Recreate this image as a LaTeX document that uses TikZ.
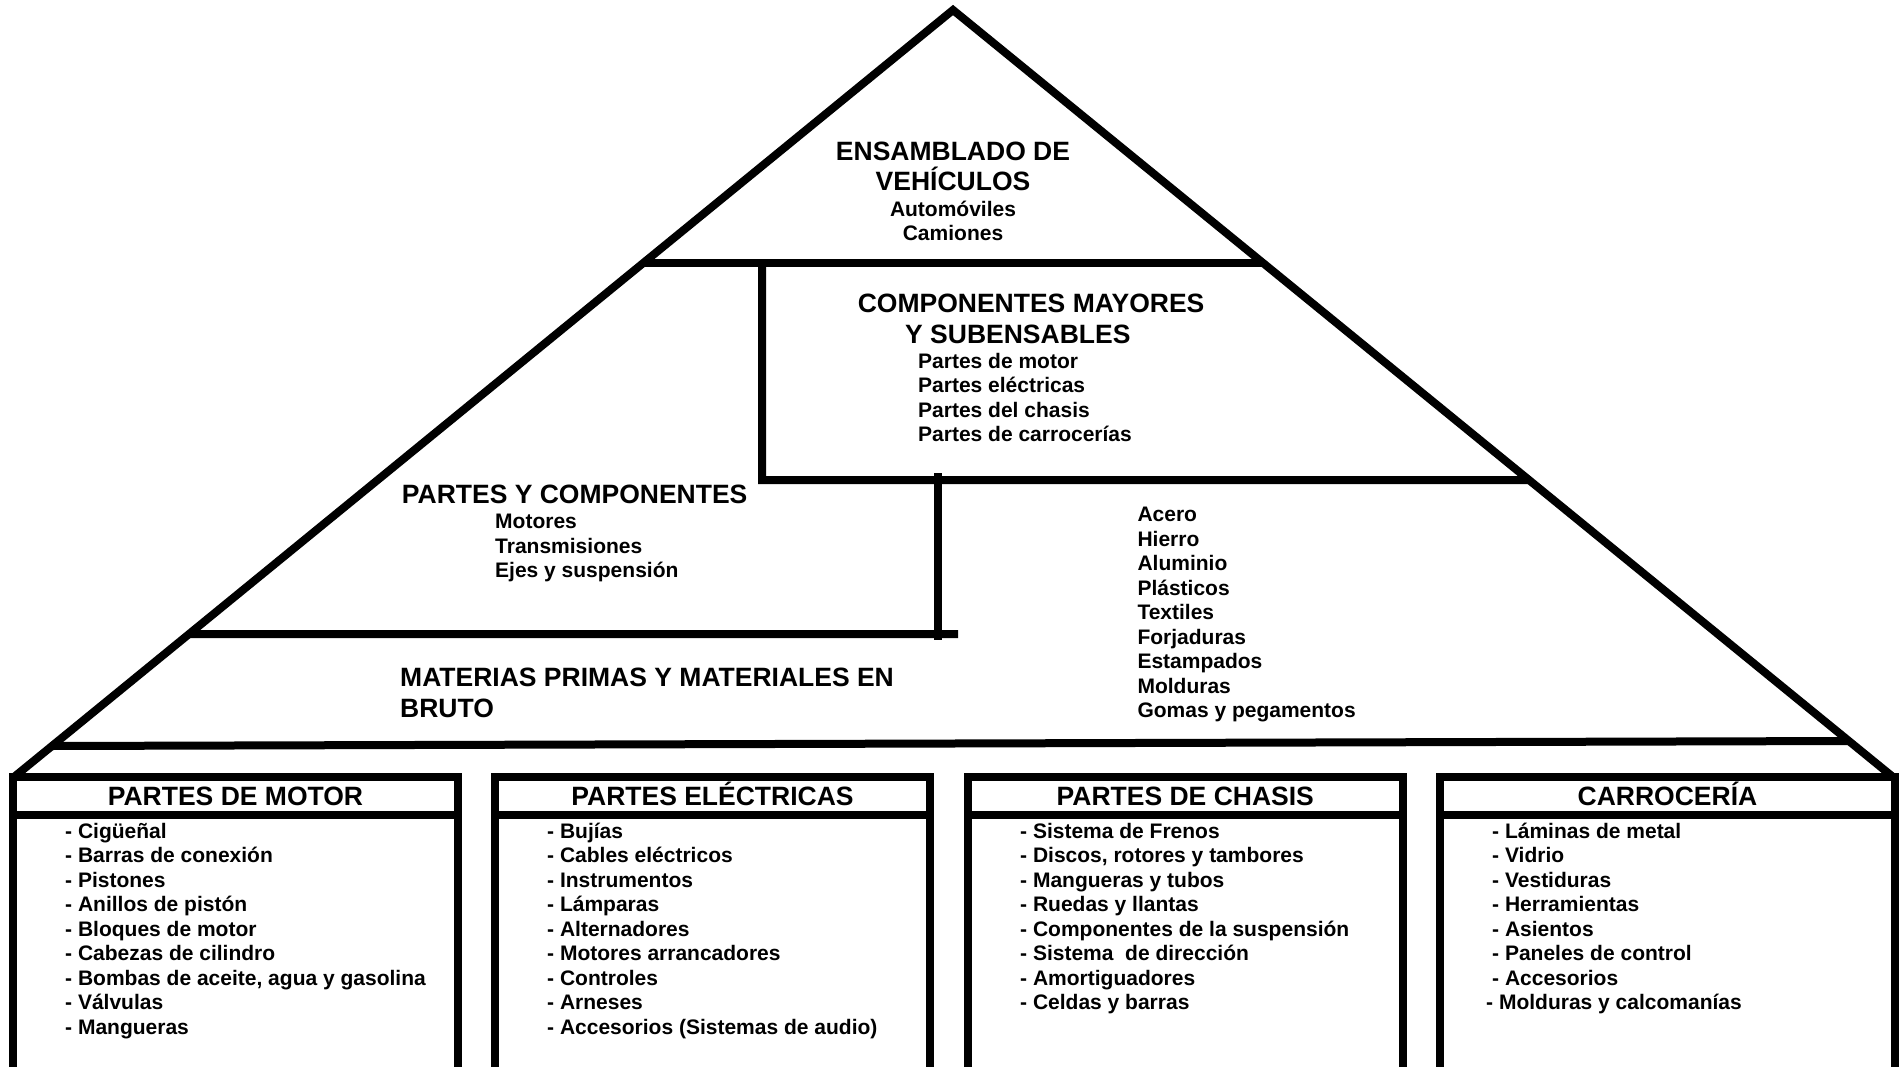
\documentclass[tikz,border=0pt]{standalone}
\usepackage{fontspec}
\setmainfont{Liberation Sans}
\tikzset{
  edge/.style={line width=8pt, line cap=butt, line join=miter},
  head/.style={font=\fontsize{26.5}{30.5}\selectfont\bfseries, inner sep=0pt, align=left},
  item/.style={font=\fontsize{21}{24.5}\selectfont\bfseries, inner sep=0pt, align=left},
}
\begin{document}
\begin{tikzpicture}[x=1pt,y=-1pt]
  \clip (0,0) rectangle (1900,1066);
  \fill[white] (0,0) rectangle (1900,1066);

  % pyramid outline
  \coordinate (apex) at (953,10);
  \coordinate (lf) at (14,777);
  \coordinate (rf) at (1893,777);
  \draw[edge] (lf) -- (apex) -- (rf);

  % helper levels for the horizontal divisions
  \coordinate (l1a) at (0,263);   \coordinate (l1b) at (1900,263);
  \coordinate (l2a) at (0,480);   \coordinate (l2b) at (1900,480);
  \coordinate (l3a) at (0,634);   \coordinate (l3b) at (1900,634);
  \coordinate (l4a) at (50,746);  \coordinate (l4b) at (1842,741);

  % top level: vehicle assembly
  \draw[edge] (intersection of apex--lf and l1a--l1b) -- (intersection of apex--rf and l1a--l1b);
  % major components block
  \coordinate (v1t) at (762,263);
  \coordinate (v1b) at (762,480);
  \draw[edge] (v1t) -- (v1b) -- (intersection of apex--rf and l2a--l2b);
  % parts and components block
  \coordinate (v2t) at (938,473);
  \coordinate (v2b) at (938,640);
  \coordinate (h3e) at (958,634);
  \draw[edge] (v2t) -- (v2b);
  \draw[edge] (intersection of apex--lf and l3a--l3b) -- (h3e);
  % base of the pyramid
  \draw[edge] (intersection of apex--lf and l4a--l4b) -- (intersection of apex--rf and l4a--l4b);

  % pyramid texts (multi-line nodes are placed by the baseline of their last line)
  \node[head, anchor=base, align=center] (ens) at (953,190.5) {ENSAMBLADO DE\\VEHÍCULOS};
  \node[item, anchor=base, align=center] (ensi) at (953,240.5) {Automóviles\\Camiones};

  \node[head, anchor=base west] (cm1) at (857.6,312.7) {COMPONENTES MAYORES};
  \node[head, anchor=base west] (cm2) at (905,343) {Y SUBENSABLES};
  \node[item, anchor=base west] (cmi) at (918,441.8)
    {Partes de motor\\Partes eléctricas\\Partes del chasis\\Partes de carrocerías};

  \node[head, anchor=base west] (pc) at (401.7,503.3) {PARTES Y COMPONENTES};
  \node[item, anchor=base west] (pci) at (495,577.8)
    {Motores\\Transmisiones\\Ejes y suspensión};

  \node[head, anchor=base west] (mp) at (400,717.2) {MATERIAS PRIMAS Y MATERIALES EN\\BRUTO};
  \node[item, anchor=base west] (mpi) at (1137.3,717.7)
    {Acero\\Hierro\\Aluminio\\Plásticos\\Textiles\\Forjaduras\\Estampados\\Molduras\\Gomas y pegamentos};

  % category boxes below the pyramid
  \foreach \xa/\xb in {13/458, 495/930, 968/1402.5, 1440/1895}{
    \draw[edge] (\xa,1100) -- (\xa,777) -- (\xb,777) -- (\xb,1100);
    \draw[edge] (\xa,815) -- (\xb,815);
  }

  \node[head, anchor=base] (t1) at (235.5,805) {PARTES DE MOTOR};
  \node[head, anchor=base] (t2) at (712.5,805) {PARTES ELÉCTRICAS};
  \node[head, anchor=base] (t3) at (1185.3,805) {PARTES DE CHASIS};
  \node[head, anchor=base] (t4) at (1667.5,805) {CARROCERÍA};

  \node[item, anchor=base west] (i1) at (65,1034.3)
    {- Cigüeñal\\- Barras de conexión\\- Pistones\\- Anillos de pistón\\- Bloques de motor\\- Cabezas de cilindro\\- Bombas de aceite, agua y gasolina\\- Válvulas\\- Mangueras};
  \node[item, anchor=base west] (i2) at (547,1034.3)
    {- Bujías\\- Cables eléctricos\\- Instrumentos\\- Lámparas\\- Alternadores\\- Motores arrancadores\\- Controles\\- Arneses\\- Accesorios (Sistemas de audio)};
  \node[item, anchor=base west] (i3) at (1020,1009.8)
    {- Sistema de Frenos\\- Discos, rotores y tambores\\- Mangueras y tubos\\- Ruedas y llantas\\- Componentes de la suspensión\\- Sistema\ \ de dirección\\- Amortiguadores\\- Celdas y barras};
  \node[item, anchor=base west] (i4) at (1492,985.3)
    {- Láminas de metal\\- Vidrio\\- Vestiduras\\- Herramientas\\- Asientos\\- Paneles de control\\- Accesorios};
  \node[item, anchor=base west] (i4b) at (1486,1009.8) {- Molduras y calcomanías};
\end{tikzpicture}
\end{document}
